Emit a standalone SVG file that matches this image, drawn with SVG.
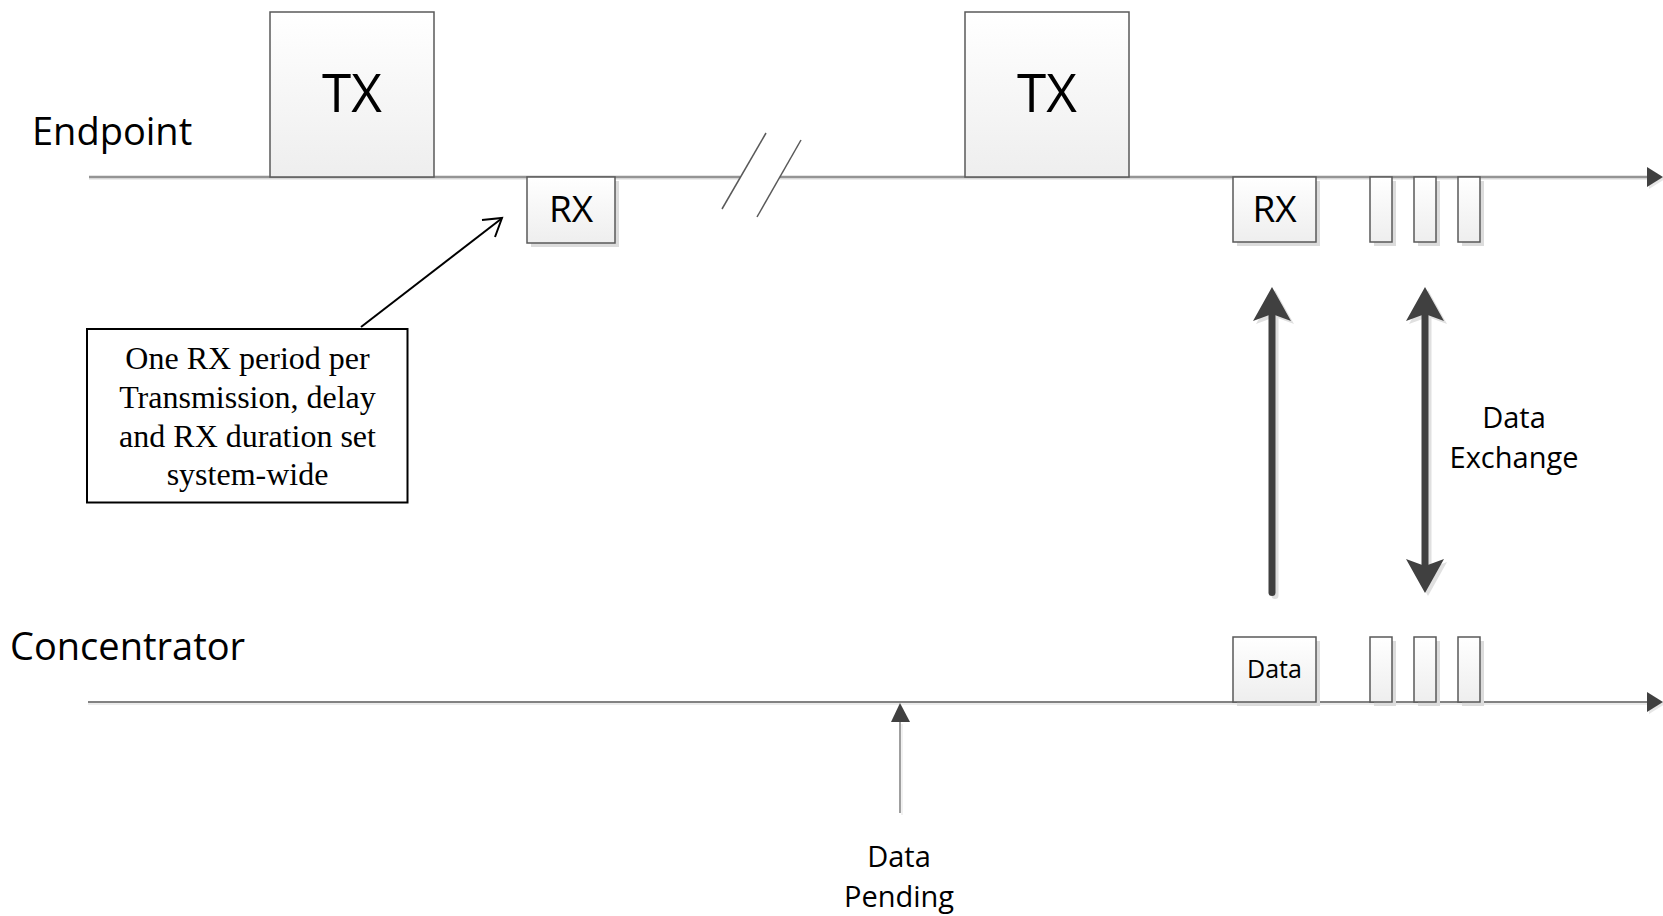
<svg xmlns="http://www.w3.org/2000/svg" width="1663" height="916" viewBox="0 0 1663 916">
<defs>
<linearGradient id="boxg" x1="0" y1="0" x2="0" y2="1">
<stop offset="0" stop-color="#ffffff"/>
<stop offset="1" stop-color="#eeeeee"/>
</linearGradient>
<style>
.box{fill:url(#boxg);stroke:#595959;stroke-width:1.5}
.shadow{fill:#dcdcdc}
.sans{font-family:"Open Sans","Liberation Sans",sans-serif;fill:#000}
.serif{font-family:"Liberation Serif","Times New Roman",serif;fill:#000;font-size:32px;text-anchor:middle}
.big{fill:#404040}
.bigshadow{fill:#e0e0e0}
</style>
</defs>
<rect width="1663" height="916" fill="#ffffff"/>

<g id="connectors">
<!-- endpoint timeline -->
<line x1="89" y1="179" x2="740" y2="179" stroke="#ececec" stroke-width="2"/>
<line x1="780" y1="179" x2="1650" y2="179" stroke="#ececec" stroke-width="2"/>
<line x1="89" y1="177" x2="740" y2="177" stroke="#949494" stroke-width="2.5"/>
<line x1="780" y1="177" x2="1650" y2="177" stroke="#949494" stroke-width="2.5"/>
<polygon points="1649,169 1665,179 1649,189" fill="#e6e6e6"/>
<polygon points="1647,167 1663,177 1647,187" fill="#404040"/>
<!-- break marks -->
<line x1="766" y1="133" x2="722" y2="209" stroke="#595959" stroke-width="1.5"/>
<line x1="801" y1="140" x2="757" y2="217" stroke="#595959" stroke-width="1.5"/>
<!-- concentrator timeline -->
<line x1="88" y1="704" x2="1650" y2="704" stroke="#ececec" stroke-width="2"/>
<line x1="88" y1="702" x2="1650" y2="702" stroke="#595959" stroke-width="1.5"/>
<polygon points="1649,694 1665,704 1649,714" fill="#e6e6e6"/>
<polygon points="1647,692 1663,702 1647,712" fill="#404040"/>
<!-- data pending arrow -->
<line x1="902" y1="724" x2="902" y2="815" stroke="#ececec" stroke-width="1.5"/>
<line x1="900" y1="720" x2="900" y2="813" stroke="#7f7f7f" stroke-width="1.5"/>
<polygon points="900,703 910,722 891,722" fill="#404040"/>
<!-- callout arrow -->
<line x1="361" y1="327" x2="501" y2="219" stroke="#000" stroke-width="2"/>
<polyline points="482,220 502,218 495,237" fill="none" stroke="#000" stroke-width="2"/>
<!-- big up arrow -->
<g transform="translate(3,3)" class="bigshadow">
<path d="M1272,287 L1291,321 L1272,314 L1253,321 Z"/>
<rect x="1268.5" y="312" width="7" height="284" rx="3.5"/>
</g>
<g class="big">
<path d="M1272,287 L1291,321 L1272,314 L1253,321 Z"/>
<rect x="1268.5" y="312" width="7" height="284" rx="3.5"/>
</g>
<!-- double arrow -->
<g transform="translate(3,3)" class="bigshadow">
<path d="M1425,287 L1444,321 L1425,314 L1406,321 Z"/>
<path d="M1425,593 L1444,559 L1425,566 L1406,559 Z"/>
<rect x="1421.5" y="312" width="7" height="256"/>
</g>
<g class="big">
<path d="M1425,287 L1444,321 L1425,314 L1406,321 Z"/>
<path d="M1425,593 L1444,559 L1425,566 L1406,559 Z"/>
<rect x="1421.5" y="312" width="7" height="256"/>
</g>
</g>

<g id="label-endpoint"><text class="sans" x="32" y="145" font-size="38">Endpoint</text></g>
<g id="label-concentrator"><text class="sans" x="10" y="660" font-size="38">Concentrator</text></g>

<g id="tx1">
<rect class="box" x="270" y="12" width="164" height="165"/>
<text class="sans" x="352" y="112" font-size="53" text-anchor="middle">TX</text>
</g>
<g id="tx2">
<rect class="box" x="965" y="12" width="164" height="165"/>
<text class="sans" x="1047" y="112" font-size="53" text-anchor="middle">TX</text>
</g>
<g id="rx1">
<rect class="shadow" x="531" y="181" width="88" height="66"/>
<rect class="box" x="527" y="177" width="88" height="66"/>
<text class="sans" x="571" y="222" font-size="37" text-anchor="middle">RX</text>
</g>
<g id="rx2">
<rect class="shadow" x="1237" y="181" width="83" height="65"/>
<rect class="box" x="1233" y="177" width="83" height="65"/>
<text class="sans" x="1274.5" y="222" font-size="37" text-anchor="middle">RX</text>
</g>
<g id="ep-slots">
<rect class="shadow" x="1374" y="181" width="22" height="65"/>
<rect class="box" x="1370" y="177" width="22" height="65"/>
<rect class="shadow" x="1418" y="181" width="22" height="65"/>
<rect class="box" x="1414" y="177" width="22" height="65"/>
<rect class="shadow" x="1462" y="181" width="22" height="65"/>
<rect class="box" x="1458" y="177" width="22" height="65"/>
</g>
<g id="data-box">
<rect class="shadow" x="1237" y="641" width="83" height="65"/>
<rect class="box" x="1233" y="637" width="83" height="65"/>
<text class="sans" x="1274.5" y="678" font-size="25" text-anchor="middle">Data</text>
</g>
<g id="conc-slots">
<rect class="shadow" x="1374" y="641" width="22" height="65"/>
<rect class="box" x="1370" y="637" width="22" height="65"/>
<rect class="shadow" x="1418" y="641" width="22" height="65"/>
<rect class="box" x="1414" y="637" width="22" height="65"/>
<rect class="shadow" x="1462" y="641" width="22" height="65"/>
<rect class="box" x="1458" y="637" width="22" height="65"/>
</g>

<g id="callout">
<rect x="87" y="329" width="320.5" height="173.5" fill="#ffffff" stroke="#000" stroke-width="2"/>
<text class="serif" x="247.5" y="369">One RX period per</text>
<text class="serif" x="247.5" y="408">Transmission, delay</text>
<text class="serif" x="247.5" y="446.5">and RX duration set</text>
<text class="serif" x="247.5" y="484.5">system-wide</text>
</g>

<g id="label-data-exchange">
<text class="sans" x="1514" y="428" font-size="29" text-anchor="middle">Data</text>
<text class="sans" x="1514" y="468" font-size="29" text-anchor="middle">Exchange</text>
</g>
<g id="label-data-pending">
<text class="sans" x="899" y="867" font-size="29" text-anchor="middle">Data</text>
<text class="sans" x="899" y="907" font-size="29" text-anchor="middle">Pending</text>
</g>
</svg>
